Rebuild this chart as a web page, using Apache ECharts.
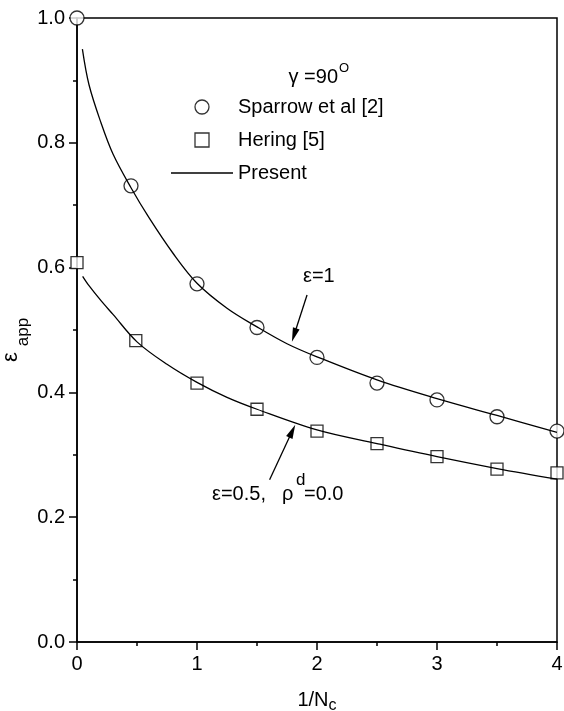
<!DOCTYPE html>
<html>
<head>
<meta charset="utf-8">
<script src="https://cdn.jsdelivr.net/npm/echarts@6/dist/echarts.min.js"></script>
<style>
html,body{margin:0;padding:0;background:#fff;}
#chart{width:564px;height:711px;}
</style>
</head>
<body>
<div id="chart"></div>
<script>
// ---- data ----
const sparrowX = [0, 0.45, 1.0, 1.5, 2.0, 2.5, 3.0, 3.5, 4.0];
const sparrowY = [1.000, 0.731, 0.574, 0.504, 0.456, 0.415, 0.388, 0.361, 0.338];

const heringX = [0, 0.49, 1.0, 1.5, 2.0, 2.5, 3.0, 3.5, 4.0];
const heringY = [0.608, 0.483, 0.415, 0.373, 0.338, 0.318, 0.297, 0.277, 0.271];

const presentUpperX = [0.045, 0.1, 0.2, 0.3, 0.45, 0.6, 0.8, 1.0, 1.25, 1.5, 1.75, 2.0, 2.5, 3.0, 3.5, 4.0];
const presentUpperY = [0.950, 0.893, 0.832, 0.782, 0.728, 0.680, 0.623, 0.575, 0.535, 0.505, 0.478, 0.457, 0.420, 0.390, 0.363, 0.336];

const presentLowerX = [0.047, 0.1, 0.2, 0.3, 0.5, 0.75, 1.0, 1.25, 1.5, 2.0, 2.5, 3.0, 3.5, 4.0];
const presentLowerY = [0.586, 0.571, 0.547, 0.525, 0.481, 0.445, 0.416, 0.392, 0.373, 0.340, 0.318, 0.297, 0.278, 0.261];

const legendNames = ['Sparrow et al [2]', 'Hering [5]', 'Present'];

const zip = (xs, ys) => xs.map((x, i) => [x, ys[i]]);
const FONT = '"Liberation Sans", Arial, sans-serif';
const BLACK = '#000';

const chart = echarts.init(document.getElementById('chart'), null, {renderer: 'canvas'});

const axisCommon = {
  type: 'value',
  axisLine: {show: true, onZero: false, lineStyle: {color: BLACK, width: 1.5}},
  axisTick: {show: true, inside: false, length: 8, lineStyle: {color: BLACK, width: 1.5}},
  minorTick: {show: true, splitNumber: 2, length: 4, lineStyle: {color: BLACK, width: 1.5}},
  splitLine: {show: false},
  minorSplitLine: {show: false}
};

const arrowLine = (from, to) => ({
  silent: true,
  symbol: ['none', 'triangle'],
  symbolSize: [7, 14],
  label: {show: false},
  lineStyle: {type: 'solid', color: BLACK, width: 1.3},
  animation: false,
  data: [[{coord: from}, {coord: to}]]
});

const option = {
  animation: false,
  backgroundColor: '#fff',
  grid: {
    left: 77, right: 7, top: 18, bottom: 69,
    containLabel: false, outerBoundsMode: 'none',
    show: true, borderColor: BLACK, borderWidth: 1.5, backgroundColor: 'transparent'
  },
  xAxis: Object.assign({}, axisCommon, {
    min: 0, max: 4, interval: 1,
    axisLabel: {color: BLACK, fontSize: 20, fontFamily: FONT, margin: 12},
    name: '{a|1/N}{b|c}',
    nameLocation: 'middle',
    nameGap: 48,
    nameTextStyle: {
      color: BLACK,
      rich: {
        a: {fontSize: 20, fontFamily: FONT, color: BLACK, lineHeight: 24, verticalAlign: 'top'},
        b: {fontSize: 16, fontFamily: FONT, color: BLACK, lineHeight: 14, verticalAlign: 'bottom'}
      }
    }
  }),
  yAxis: Object.assign({}, axisCommon, {
    min: 0, max: 1, interval: 0.2,
    axisLabel: {color: BLACK, fontSize: 20, fontFamily: FONT, margin: 12, formatter: v => v.toFixed(1)}
  }),
  legend: {
    orient: 'vertical',
    left: 171,
    top: 97,
    padding: 0,
    itemWidth: 62,
    itemHeight: 14,
    itemGap: 13,
    selectedMode: false,
    symbolKeepAspect: true,
    textStyle: {fontSize: 20, fontFamily: FONT, color: BLACK, lineHeight: 20},
    data: [
      {name: legendNames[0], icon: 'circle', itemStyle: {color: '#fff', borderColor: BLACK, borderWidth: 1.3}},
      {name: legendNames[1], icon: 'path://M0,0L12,0L12,12L0,12Z', itemStyle: {color: '#fff', borderColor: BLACK, borderWidth: 1.3}},
      {name: legendNames[2], icon: 'path://M0,0L62,0L62,1.3L0,1.3Z', itemStyle: {color: BLACK, borderWidth: 0}}
    ]
  },
  series: [
    {
      name: legendNames[0], type: 'scatter', data: zip(sparrowX, sparrowY),
      symbol: 'circle', symbolSize: 14, clip: false, z: 2,
      itemStyle: {color: '#fff', borderColor: BLACK, borderWidth: 1.3}
    },
    {
      name: legendNames[1], type: 'scatter', data: zip(heringX, heringY),
      symbol: 'rect', symbolSize: 12, clip: false, z: 2,
      itemStyle: {color: '#fff', borderColor: BLACK, borderWidth: 1.3}
    },
    {
      name: legendNames[2], type: 'line', data: zip(presentUpperX, presentUpperY),
      smooth: 0.35, symbol: 'none', z: 3,
      itemStyle: {color: BLACK},
      lineStyle: {color: BLACK, width: 1.3},
      markLine: arrowLine([1.917, 0.556], [1.809, 0.492])
    },
    {
      name: legendNames[2], type: 'line', data: zip(presentLowerX, presentLowerY),
      smooth: 0.35, symbol: 'none', z: 3,
      itemStyle: {color: BLACK},
      lineStyle: {color: BLACK, width: 1.3},
      markLine: arrowLine([1.605, 0.260], [1.794, 0.338])
    }
  ],
  graphic: [
    {type: 'text', x: 338, y: 77, style: {text: 'γ =90', fontSize: 20, fontFamily: FONT, fill: BLACK, align: 'right', verticalAlign: 'middle'}},
    {type: 'text', x: 339, y: 68, style: {text: 'O', fontSize: 13, fontFamily: FONT, fill: BLACK, align: 'left', verticalAlign: 'middle'}},
    {type: 'text', x: 303, y: 276, style: {text: 'ε=1', fontSize: 20, fontFamily: FONT, fill: BLACK, align: 'left', verticalAlign: 'middle'}},
    {type: 'text', x: 212, y: 494, style: {text: 'ε=0.5,', fontSize: 20, fontFamily: FONT, fill: BLACK, align: 'left', verticalAlign: 'middle'}},
    {type: 'text', x: 282, y: 494, style: {text: 'ρ', fontSize: 20, fontFamily: FONT, fill: BLACK, align: 'left', verticalAlign: 'middle'}},
    {type: 'text', x: 296, y: 480, style: {text: 'd', fontSize: 17, fontFamily: FONT, fill: BLACK, align: 'left', verticalAlign: 'middle'}},
    {type: 'text', x: 304, y: 494, style: {text: '=0.0', fontSize: 20, fontFamily: FONT, fill: BLACK, align: 'left', verticalAlign: 'middle'}},
    {type: 'text', x: 11, y: 357, rotation: Math.PI / 2, style: {text: 'ε', fontSize: 22, fontFamily: FONT, fill: BLACK, align: 'center', verticalAlign: 'middle'}},
    {type: 'text', x: 23, y: 332, rotation: Math.PI / 2, style: {text: 'app', fontSize: 17, fontFamily: FONT, fill: BLACK, align: 'center', verticalAlign: 'middle'}}
  ]
};

chart.setOption(option);
</script>
</body>
</html>
